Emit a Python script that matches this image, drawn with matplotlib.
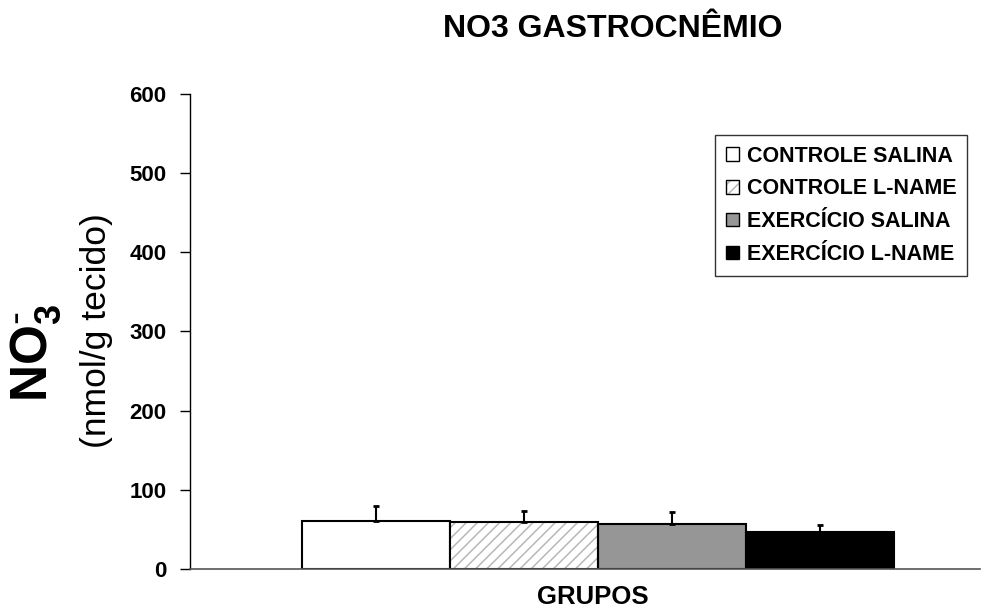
import matplotlib
matplotlib.use("Agg")
import matplotlib.pyplot as plt
from matplotlib.patches import Patch

plt.rcParams['font.family'] = ['Liberation Sans', 'DejaVu Sans']
plt.rcParams['hatch.linewidth'] = 1.1

# Group means and standard deviations (nmol/g tissue)
groups = ["CONTROLE SALINA", "CONTROLE L-NAME", "EXERCÍCIO SALINA", "EXERCÍCIO L-NAME"]
means = [61, 59, 57, 47]
errors = [18, 14, 15, 9]
colors = ["white", "white", "#969696", "black"]
hatches = [None, "///", None, None]
hatch_color = "#b8b8b8"

fig = plt.figure(figsize=(9.95, 6.14), dpi=100)
ax = fig.add_axes([0.191, 0.0733, 0.794, 0.7737])

width = 0.25
offsets = [(-1.5 + i) * width for i in range(len(groups))]
for off, m, e, c, h in zip(offsets, means, errors, colors, hatches):
    if h:
        # hatch layer in light grey, outline drawn on top in black
        ax.bar(off, m, width=width, color=c, edgecolor=hatch_color,
               linewidth=0, hatch=h, zorder=2)
        ax.bar(off, m, width=width, fill=False, edgecolor="black",
               linewidth=1.5, zorder=2.5)
    else:
        ax.bar(off, m, width=width, color=c, edgecolor="black",
               linewidth=1.5, zorder=2)
    ax.errorbar(off, m, yerr=[[0], [e]], fmt="none", ecolor="black",
                elinewidth=1.5, capsize=2.5, capthick=2, zorder=3)

ax.set_xlim(-0.689, 0.645)
ax.set_ylim(0, 600)
ax.set_yticks(range(0, 601, 100))
ax.set_xticks([])
ax.tick_params(axis="y", direction="out", length=7, width=1, labelsize=16, pad=10)
for lab in ax.get_yticklabels():
    lab.set_fontweight("bold")
for s in ["top", "right"]:
    ax.spines[s].set_visible(False)
ax.spines["left"].set_linewidth(1)
ax.spines["bottom"].set_linewidth(1.2)
ax.spines["bottom"].set_color("#555555")

fig.text(0.616, 0.953, "NO3 GASTROCNÊMIO", ha="center", va="center",
         fontsize=23, fontweight="bold")
fig.text(0.596, 0.0285, "GRUPOS", ha="center", va="center",
         fontsize=18.5, fontweight="bold")
fig.text(0.036, 0.426, r"NO$_\mathregular{3}^{\text{-}}$", rotation=90,
         ha="center", va="center", fontsize=37, fontweight="bold")
fig.text(0.0965, 0.461, "(nmol/g tecido)", rotation=90, ha="center", va="center",
         fontsize=25.5)

handles = []
for c, h in zip(colors, hatches):
    if h:
        handles.append((Patch(facecolor=c, edgecolor=hatch_color, hatch=h, linewidth=0),
                        Patch(fill=False, edgecolor="black", linewidth=1)))
    else:
        handles.append(Patch(facecolor=c, edgecolor="black", linewidth=1))
leg = ax.legend(handles, groups, loc="upper right", bbox_to_anchor=(0.9835, 0.914),
                borderaxespad=0, frameon=True, fancybox=False, edgecolor="black",
                prop={"weight": "bold", "size": 15.5}, handlelength=0.6,
                handleheight=0.6, handletextpad=0.35, borderpad=0.5,
                labelspacing=0.55)
leg.get_frame().set_linewidth(1)

fig.savefig("out.png", dpi=100)
